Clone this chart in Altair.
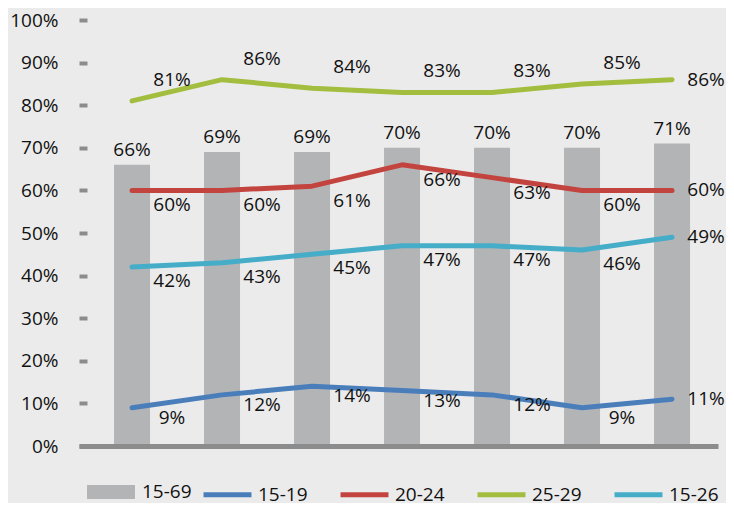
import altair as alt
import pandas as pd

cats = ["1", "2", "3", "4", "5", "6", "7"]
bar_name = ["15-69"]
line_names = ["15-19", "20-24", "25-29", "15-26"]
bar_15_69 = [66, 69, 69, 70, 70, 70, 71]
s15_19 = [9, 12, 14, 13, 12, 9, 11]
s20_24 = [60, 60, 61, 66, 63, 60, 60]
s25_29 = [81, 86, 84, 83, 83, 85, 86]
s15_26 = [42, 43, 45, 47, 47, 46, 49]
bar_color = ["#b3b4b6"]
line_colors = ["#4a7ebb", "#c3443f", "#a3bd3f", "#45adc8"]

FONT = "Open Sans"
FS = 19
TXT = "#111111"

bars_df = pd.DataFrame({"cat": cats, "value": bar_15_69, "bar_series": bar_name[0]})
line_series = dict(zip(line_names, [s15_19, s20_24, s25_29, s15_26]))
lines_df = pd.concat(
    [pd.DataFrame({"cat": cats, "value": v, "series": n, "idx": list(range(len(cats)))})
     for n, v in line_series.items()],
    ignore_index=True,
)

common_legend = dict(orient="none", legendY=448, direction="horizontal", title=None,
                     labelFontSize=FS, labelFont=FONT, labelColor=TXT,
                     symbolOpacity=1)
fill_legend = alt.Legend(legendX=8, symbolType="M-1,-0.29H1V0.29H-1Z", symbolSize=2300,
                         symbolStrokeWidth=0, labelOffset=7, **common_legend)
stroke_legend = alt.Legend(legendX=122, symbolType="stroke", symbolSize=2300,
                           symbolStrokeWidth=5, columnPadding=22, labelOffset=4,
                           **common_legend)

x = alt.X("cat:N", sort=cats,
          scale=alt.Scale(paddingInner=0.6, paddingOuter=0.35, align=0.556),
          axis=alt.Axis(title=None, labels=False, ticks=False, domain=True,
                        domainColor="#8c8c8c", domainWidth=5, zindex=1))
y = alt.Y("value:Q", scale=alt.Scale(domain=[0, 100], nice=False),
          axis=alt.Axis(title=None, values=list(range(0, 101, 10)),
                        labelExpr="datum.value + '%'", grid=False, domain=False,
                        ticks=True, tickSize=8, tickWidth=4, tickColor="#8c8c8c",
                        offset=-8, labelPadding=21, labelFontSize=FS, labelFont=FONT,
                        labelColor=TXT))

bars = alt.Chart(bars_df).mark_bar().encode(
    x=x, y=y,
    fill=alt.Fill("bar_series:N", scale=alt.Scale(domain=bar_name, range=bar_color),
                  legend=fill_legend),
)
bar_text = alt.Chart(bars_df).transform_calculate(
    label="datum.value + '%'"
).mark_text(baseline="bottom", dy=-5, fontSize=FS, font=FONT, color=TXT).encode(
    x=x, y=y, text="label:N"
)
lines = alt.Chart(lines_df).mark_line(strokeWidth=5, strokeCap="round", strokeJoin="round").encode(
    x=x, y=y,
    stroke=alt.Stroke("series:N", scale=alt.Scale(domain=line_names, range=line_colors),
                      legend=stroke_legend),
    order="idx:Q",
)

dys = {"15-19": 10, "20-24": 15, "25-29": -21, "15-26": 14}
label_layers = []
for name, dy in dys.items():
    base = alt.Chart(lines_df).transform_filter(
        alt.datum.series == name
    ).transform_calculate(label="datum.value + '%'")
    label_layers.append(
        base.transform_filter(alt.datum.idx < len(cats) - 1).mark_text(
            dx=40, dy=dy, fontSize=FS, font=FONT, color=TXT
        ).encode(x=x, y=y, text="label:N")
    )
    label_layers.append(
        base.transform_filter(alt.datum.idx == len(cats) - 1).mark_text(
            dx=34, dy=0, fontSize=FS, font=FONT, color=TXT
        ).encode(x=x, y=y, text="label:N")
    )

chart = alt.layer(bars, bar_text, lines, *label_layers).properties(
    width=639, height=426,
    autosize=alt.AutoSizeParams(type="none"),
    padding={"left": 71, "top": 12, "right": 8, "bottom": 57},
    background="#ebebeb",
).configure_view(stroke=None)

chart.save("out.html", embed_options={"renderer": "svg", "actions": False})
